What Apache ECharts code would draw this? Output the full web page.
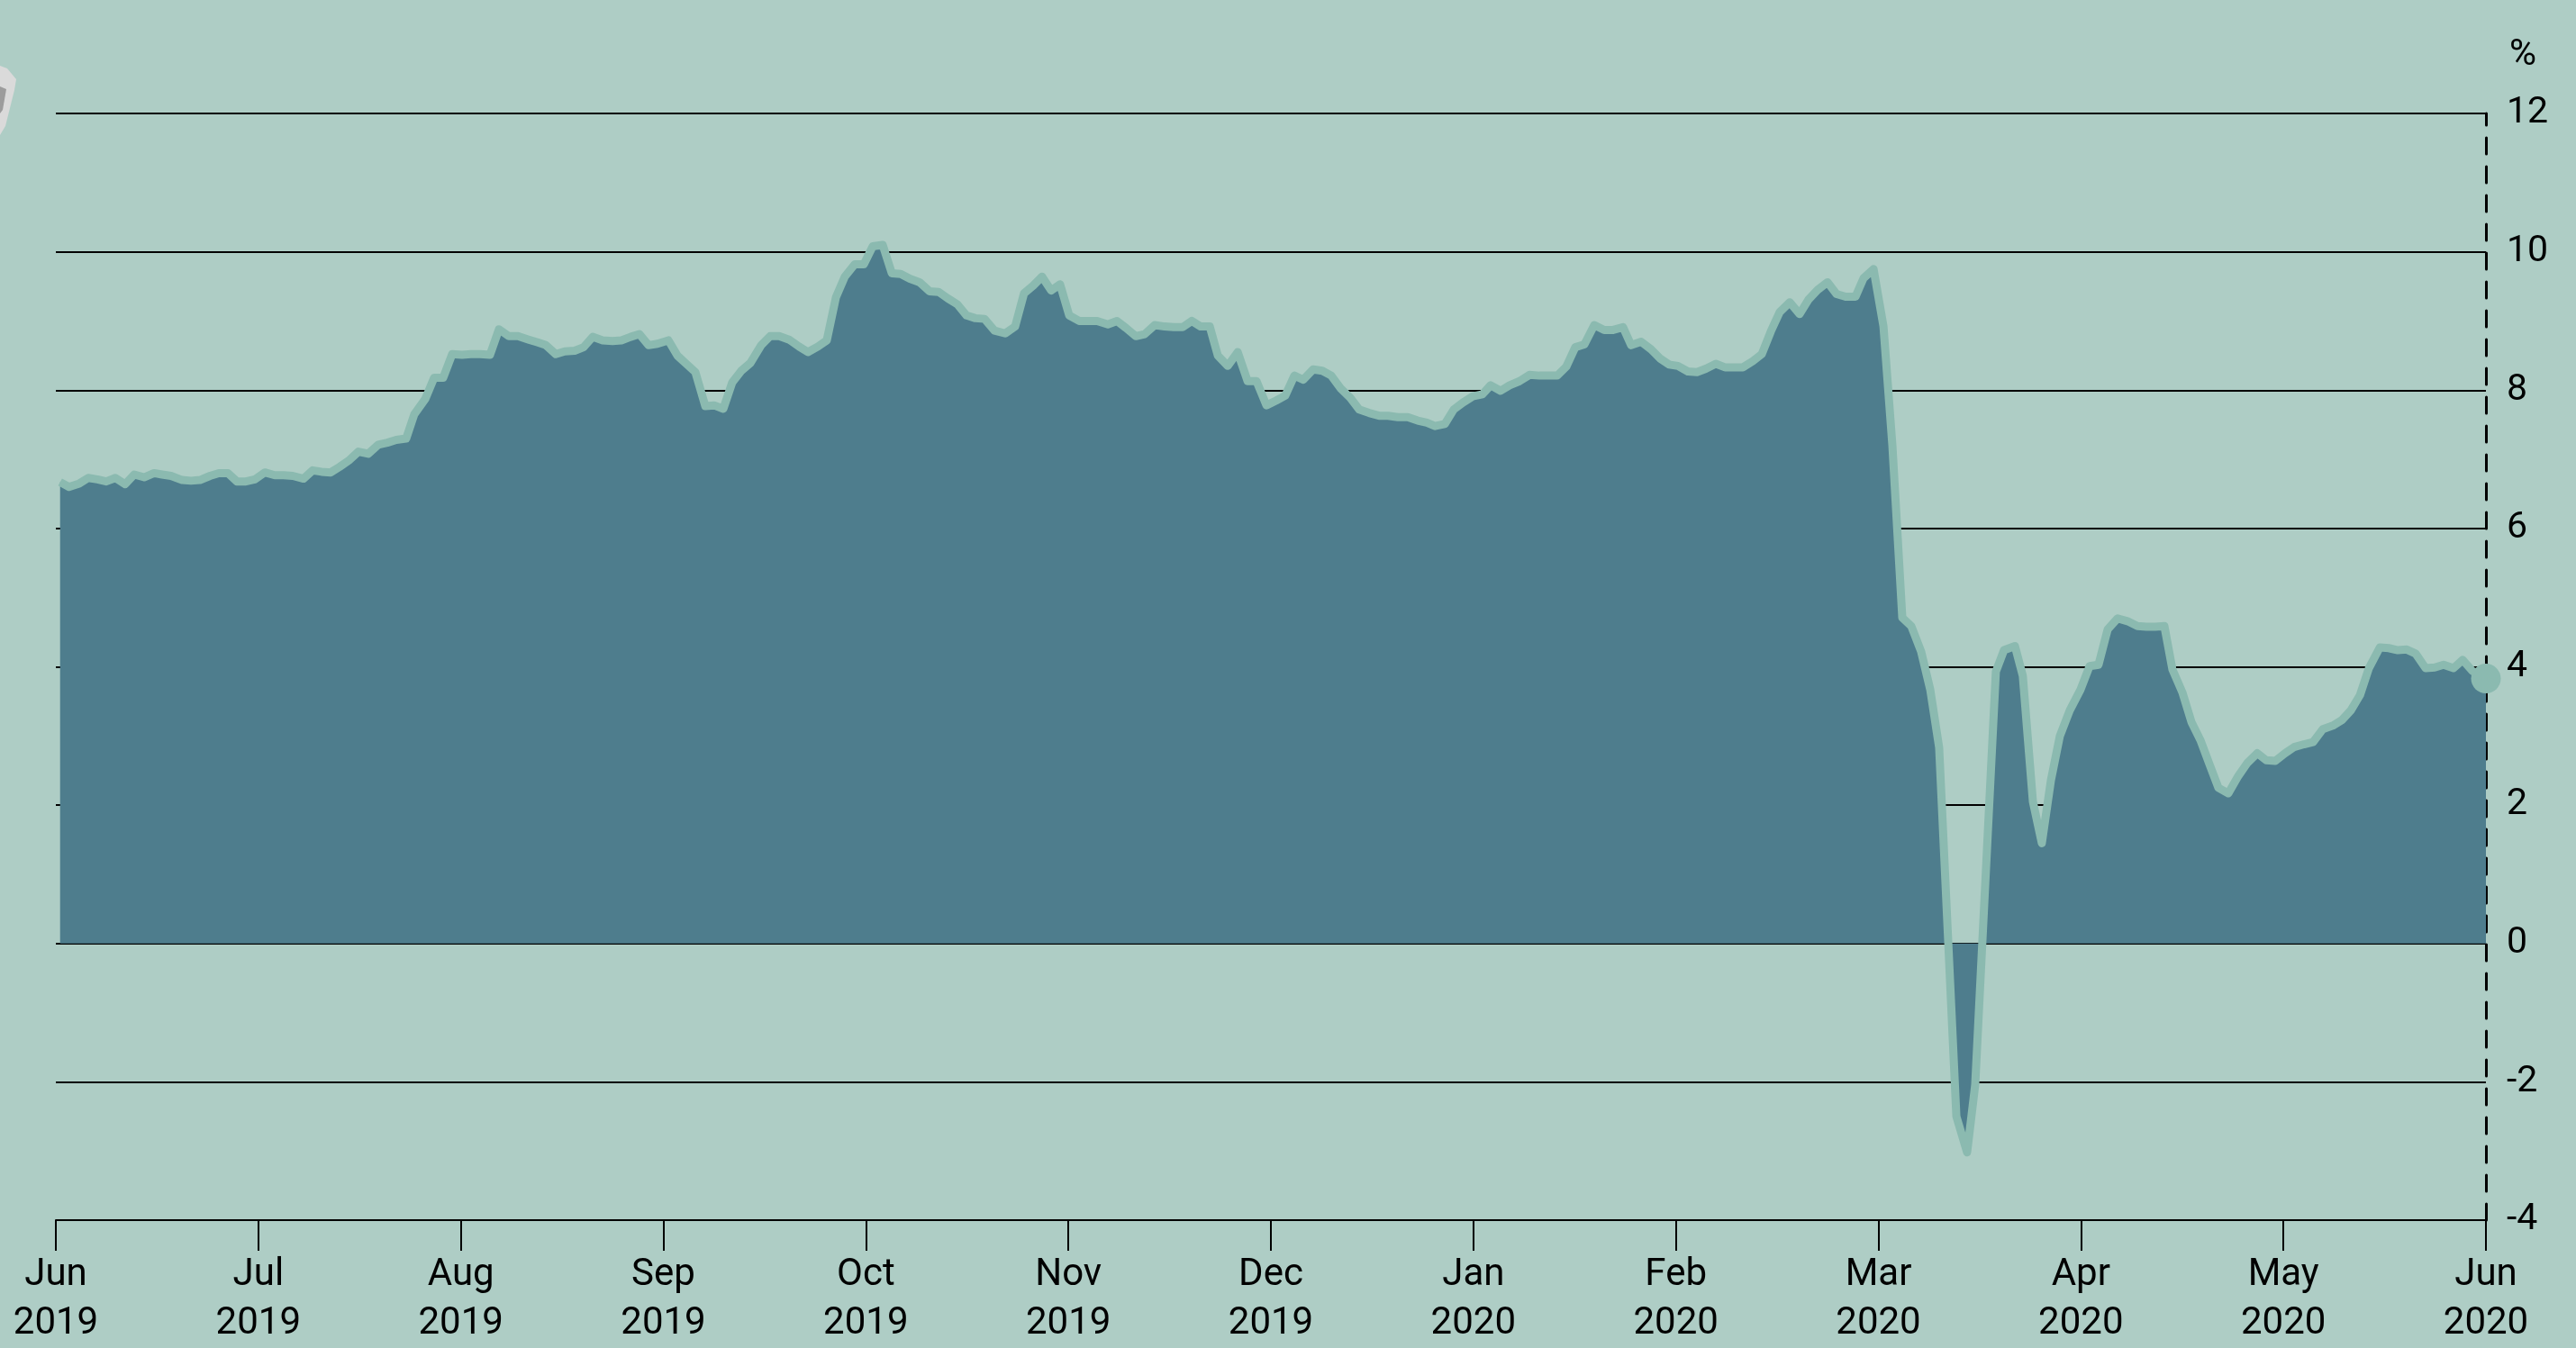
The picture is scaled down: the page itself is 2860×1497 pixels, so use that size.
<!DOCTYPE html>
<html>
<head>
<meta charset="utf-8">
<script src="https://cdn.jsdelivr.net/npm/echarts@6/dist/echarts.min.js"></script>
<style>
html,body{margin:0;padding:0;background:#aecdc5;}
#chart{width:2860px;height:1497px;}
</style>
</head>
<body>
<div id="chart"></div>
<script>
// x position in months since Jun 2019 (month ticks are evenly spaced)
const monthPos = [0.021,0.065,0.116,0.160,0.205,0.249,0.294,0.342,0.387,0.436,0.485,0.525,0.569,0.623,0.667,0.712,0.761,0.805,0.850,0.894,0.938,0.983,
1.032,1.081,1.125,1.170,1.223,1.268,1.312,1.357,1.401,1.450,1.494,1.543,1.592,1.637,1.681,1.730,1.770,1.824,1.868,1.913,1.957,
2.006,2.050,2.095,2.144,2.188,2.237,2.282,2.335,2.380,2.420,2.469,2.513,2.562,2.606,2.651,2.700,2.749,2.793,2.838,2.882,2.927,2.971,
3.025,3.069,3.113,3.158,3.207,3.251,3.296,3.340,3.385,3.429,3.483,3.527,3.572,3.621,3.670,3.714,3.763,3.807,3.852,3.896,3.945,3.990,
4.034,4.083,4.128,4.172,4.217,4.265,4.314,4.359,4.403,4.452,4.497,4.541,4.586,4.635,4.688,4.737,4.781,4.826,4.870,4.915,4.959,
5.004,5.053,5.097,5.142,5.195,5.240,5.284,5.333,5.377,5.426,5.475,5.520,5.564,5.609,5.653,5.698,5.738,5.787,5.836,5.885,5.929,5.978,
6.027,6.071,6.116,6.160,6.209,6.254,6.298,6.343,6.392,6.436,6.485,6.534,6.578,6.627,6.676,6.725,6.770,6.810,6.859,6.903,6.948,6.997,
7.045,7.085,7.134,7.179,7.228,7.277,7.326,7.374,7.414,7.459,7.503,7.548,7.597,7.646,7.690,7.739,7.779,7.828,7.877,7.921,7.966,
8.010,8.059,8.104,8.148,8.197,8.242,8.286,8.331,8.380,8.424,8.469,8.513,8.562,8.611,8.655,8.700,8.749,8.793,8.838,8.887,8.927,8.976,
9.025,9.069,9.118,9.162,9.211,9.256,9.300,9.385,9.438,9.478,9.580,9.620,9.674,9.713,9.763,9.807,9.852,9.896,9.945,9.998,
10.043,10.087,10.132,10.181,10.230,10.279,10.323,10.368,10.412,10.452,10.501,10.546,10.590,10.635,10.679,10.728,10.777,10.822,10.871,10.915,10.960,
11.008,11.053,11.102,11.146,11.195,11.244,11.289,11.333,11.378,11.422,11.476,11.520,11.565,11.609,11.653,11.702,11.747,11.791,11.840,11.885,11.933,12.000];

// values in %
const values = [6.67,6.60,6.65,6.73,6.71,6.68,6.73,6.64,6.78,6.74,6.80,6.78,6.76,6.70,6.69,6.70,6.76,6.80,6.80,6.68,6.68,6.71,
6.81,6.77,6.77,6.76,6.72,6.84,6.82,6.81,6.89,6.99,7.11,7.08,7.21,7.24,7.28,7.30,7.65,7.87,8.18,8.18,8.52,
8.51,8.52,8.52,8.51,8.88,8.78,8.78,8.73,8.69,8.65,8.52,8.56,8.57,8.62,8.77,8.72,8.71,8.72,8.77,8.81,8.65,8.67,
8.72,8.50,8.38,8.26,7.77,7.78,7.73,8.11,8.28,8.39,8.65,8.78,8.78,8.73,8.63,8.55,8.63,8.72,9.34,9.64,9.82,9.82,
10.08,10.10,9.69,9.68,9.61,9.56,9.43,9.42,9.33,9.24,9.08,9.04,9.03,8.86,8.82,8.92,9.40,9.51,9.64,9.44,9.53,
9.08,9.00,9.00,9.00,8.95,9.00,8.90,8.78,8.81,8.94,8.92,8.91,8.91,9.00,8.92,8.92,8.50,8.35,8.55,8.13,8.13,7.78,
7.85,7.92,8.21,8.15,8.30,8.28,8.21,8.03,7.89,7.72,7.67,7.63,7.63,7.61,7.61,7.56,7.53,7.48,7.51,7.72,7.82,7.91,
7.94,8.07,7.99,8.07,8.13,8.22,8.21,8.21,8.21,8.34,8.62,8.66,8.94,8.87,8.87,8.91,8.65,8.70,8.59,8.46,8.37,
8.35,8.27,8.26,8.31,8.38,8.33,8.33,8.33,8.42,8.52,8.85,9.13,9.27,9.10,9.31,9.45,9.56,9.39,9.35,9.35,9.62,9.75,
8.92,7.20,4.71,4.59,4.22,3.67,2.83,-2.50,-3.02,-2.04,3.93,4.24,4.30,3.87,2.05,1.45,2.36,3.00,3.37,3.67,
4.01,4.03,4.54,4.70,4.66,4.59,4.58,4.58,4.59,3.96,3.63,3.20,2.94,2.59,2.25,2.17,2.42,2.61,2.75,2.65,2.64,
2.75,2.84,2.88,2.91,3.10,3.15,3.23,3.37,3.59,3.98,4.28,4.27,4.24,4.25,4.19,3.98,3.99,4.03,3.98,4.10,3.94,3.83];

const monthLabels = ['Jun\n2019','Jul\n2019','Aug\n2019','Sep\n2019','Oct\n2019','Nov\n2019','Dec\n2019',
  'Jan\n2020','Feb\n2020','Mar\n2020','Apr\n2020','May\n2020','Jun\n2020'];
const yTicks = [-4,-2,0,2,4,6,8,10,12];
const yUnit = '%';

const seriesData = monthPos.map((m, i) => [m, values[i]]);
const lastPoint = seriesData[seriesData.length - 1];

const FONT = 'Roboto, "DejaVu Sans", sans-serif';
const chart = echarts.init(document.getElementById('chart'), null, {renderer: 'canvas'});
chart.setOption({
  animation: false,
  backgroundColor: '#aecdc5',
  grid: {left: 62, right: 100, top: 126, bottom: 139, containLabel: false},
  xAxis: {
    type: 'value',
    min: 0, max: monthLabels.length - 1, interval: 1,
    axisLine: {show: true, onZero: false, lineStyle: {color: '#000', width: 2}},
    axisTick: {show: true, length: 34, lineStyle: {color: '#000', width: 2}},
    splitLine: {show: false},
    axisLabel: {
      show: true, margin: 34, color: '#000', fontFamily: FONT, fontSize: 42, lineHeight: 54,
      showMinLabel: true, showMaxLabel: true,
      formatter: v => monthLabels[Math.round(v)]
    }
  },
  yAxis: {
    type: 'value',
    position: 'right',
    min: yTicks[0], max: yTicks[yTicks.length - 1], interval: 2,
    name: yUnit,
    nameLocation: 'end',
    nameGap: 44,
    nameTextStyle: {color: '#000', fontFamily: FONT, fontSize: 41, align: 'left', padding: [0, 0, 0, 26]},
    axisLine: {show: true, onZero: false, lineStyle: {color: '#000', width: 3, type: [18, 14]}},
    axisTick: {show: false},
    splitLine: {show: true, lineStyle: {color: '#000', width: 2}},
    axisLabel: {show: true, margin: 23, color: '#000', fontFamily: FONT, fontSize: 41, padding: [14, 0, 0, 0]}
  },
  series: [
    {
      type: 'line',
      data: seriesData,
      showSymbol: false,
      symbol: 'none',
      lineStyle: {color: '#8bbab0', width: 9, join: 'round'},
      areaStyle: {color: '#4e7d8d', opacity: 1, origin: 'auto'},
      z: 3
    },
    {
      type: 'scatter',
      data: [lastPoint],
      symbol: 'circle',
      symbolSize: 33,
      itemStyle: {color: '#8bbab0', opacity: 1},
      z: 4
    }
  ],
  graphic: [
    {type: 'polygon', shape: {points: [[0,73],[8,76],[18,88],[16,100],[6,140],[0,150]]}, style: {fill: '#dadada'}, silent: true},
    {type: 'polygon', shape: {points: [[0,96],[7,99],[3,122],[0,126]]}, style: {fill: '#9c9c9c'}, silent: true}
  ]
});
</script>
</body>
</html>
